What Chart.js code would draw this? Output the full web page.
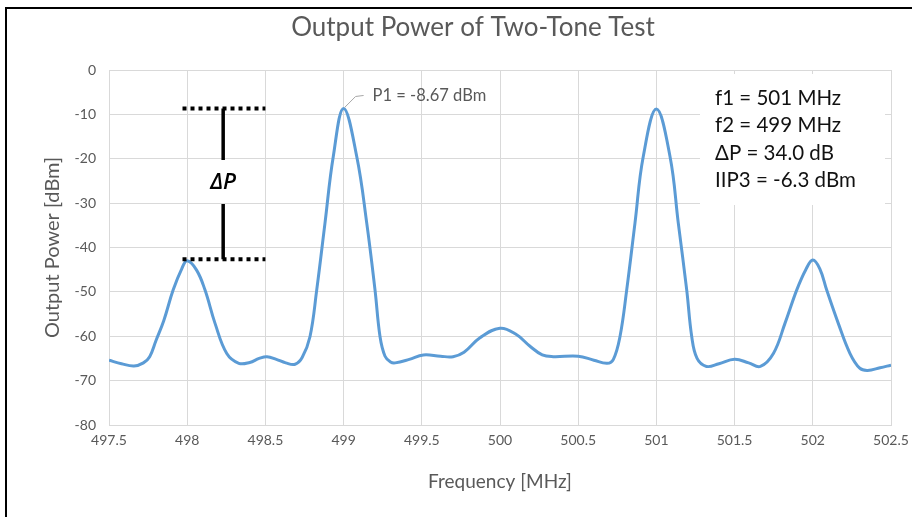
<!DOCTYPE html>
<html>
<head>
<meta charset="utf-8">
<title>Output Power of Two-Tone Test</title>
<script src="https://cdn.jsdelivr.net/npm/chart.js@4.4.1/dist/chart.umd.min.js"></script>
<style>
  html, body { margin: 0; padding: 0; background: #fff; overflow: hidden; }
  #wrap { position: relative; width: 912px; height: 517px; }
  #frame { position: absolute; left: 5px; top: 7px; width: 1000px; height: 1000px;
           border: 2px solid #000; box-sizing: border-box; pointer-events: none; }
  canvas { position: absolute; left: 0; top: 0; }
</style>
</head>
<body>
<div id="wrap">
  <canvas id="chart" width="912" height="517"></canvas>
  <div id="frame"></div>
</div>
<script>
// Measured spectrum of the two-tone test
const freqMHz = [
  497.50, 497.58, 497.66, 497.72, 497.76, 497.80, 497.85, 497.91, 497.965, 498.00,
  498.06, 498.114, 498.178, 498.253, 498.33, 498.40, 498.46, 498.51, 498.57, 498.63,
  498.69, 498.735, 498.785, 498.828, 498.881, 498.934, 499.00, 499.084, 499.148, 499.201,
  499.233, 499.265, 499.30, 499.33, 499.42, 499.51, 499.62, 499.70, 499.77, 499.87,
  500.00, 500.10, 500.19, 500.27, 500.34, 500.50, 500.60, 500.685, 500.725, 500.767,
  500.81, 500.863, 500.916, 501.00, 501.087, 501.14, 501.194, 501.226, 501.26, 501.32,
  501.40, 501.50, 501.59, 501.665, 501.748, 501.822, 501.897, 501.955, 502.00, 502.045,
  502.089, 502.163, 502.238, 502.30, 502.35, 502.43, 502.50
];
const powerDbm = [
  -65.4, -66.2, -66.7, -66.0, -64.6, -61.0, -56.5, -49.6, -44.8, -43.0,
  -45.1, -49.6, -57.1, -63.9, -66.1, -65.9, -65.0, -64.6, -65.2, -66.0,
  -66.3, -64.8, -60.1, -49.6, -34.5, -19.5, -8.67, -19.5, -34.5, -49.6,
  -60.1, -64.5, -65.8, -66.0, -65.2, -64.2, -64.5, -64.6, -63.6, -60.4,
  -58.2, -59.5, -62.2, -64.2, -64.6, -64.5, -65.4, -66.1, -65.2, -60.1,
  -49.6, -34.5, -19.5, -8.8, -19.5, -34.5, -49.6, -60.1, -65.0, -66.8,
  -66.2, -65.2, -66.0, -66.8, -63.9, -57.1, -49.6, -45.0, -42.8, -44.8,
  -49.6, -57.1, -63.9, -67.2, -67.7, -67.1, -66.5
];

// Axis ticks
const xTickValues = [497.5, 498, 498.5, 499, 499.5, 500, 500.5, 501, 501.5, 502, 502.5];
const xTickLabels = ['497.5', '498', '498.5', '499', '499.5', '500', '500.5', '501', '501.5', '502', '502.5'];
const yTickValues = [-80, -70, -60, -50, -40, -30, -20, -10, 0];
const yTickLabels = ['-80', '-70', '-60', '-50', '-40', '-30', '-20', '-10', '0'];

// Tone results
const f2MHz = 499;          // tone carrying the P1 marker
const p1Dbm = -8.67;        // fundamental output power
const deltaPdB = 34.0;      // fundamental-to-IM3 spacing
const deltaPSpanMHz = [497.97, 498.5];   // extent of the dotted ΔP guides
const deltaPBarMHz = 498.23;             // position of the ΔP bar
const infoLines = ['f1 = 501 MHz', 'f2 = 499 MHz', 'ΔP = 34.0 dB', 'IIP3 = -6.3 dBm'];

const chartTitle = 'Output Power of Two-Tone Test';
const xTitle = 'Frequency [MHz]';
const yTitle = 'Output Power [dBm]';

const GREY = '#595959';
const GRID = '#d9d9d9';
const FONT = "Lato, 'DejaVu Sans', sans-serif";

function labelFor(values, labels, v) {
  const i = values.findIndex(t => Math.abs(t - v) < 1e-6);
  return i >= 0 ? labels[i] : '';
}

const overlay = {
  id: 'overlay',
  beforeDatasetsDraw(chart) {
    // white panel for the results text, over the gridlines
    const ctx = chart.ctx;
    ctx.save();
    ctx.fillStyle = '#ffffff';
    ctx.fillRect(700, 74, 185, 131);
    ctx.restore();
  },
  afterDraw(chart) {
    const ctx = chart.ctx;
    const xs = chart.scales.x, ys = chart.scales.y;
    ctx.save();

    // chart title
    ctx.fillStyle = GREY;
    ctx.font = "26px " + FONT;
    ctx.textAlign = 'center';
    ctx.textBaseline = 'middle';
    ctx.fillText(chartTitle, 473, 28);

    // P1 marker with leader line
    const px = xs.getPixelForValue(f2MHz), py = ys.getPixelForValue(p1Dbm);
    ctx.strokeStyle = '#a6a6a6';
    ctx.lineWidth = 1;
    ctx.beginPath();
    ctx.moveTo(px + 1, py - 1);
    ctx.lineTo(px + 12, py - 12);
    ctx.lineTo(px + 20, py - 13);
    ctx.stroke();
    ctx.fillStyle = GREY;
    ctx.font = "16.5px " + FONT;
    ctx.textAlign = 'left';
    ctx.fillText('P1 = ' + p1Dbm.toFixed(2) + ' dBm', px + 29, py - 13);

    // ΔP dimension: dotted guides at P1 and P1 - ΔP, joined by a bar
    const yTop = ys.getPixelForValue(p1Dbm);
    const yBot = ys.getPixelForValue(p1Dbm - deltaPdB);
    const xa = xs.getPixelForValue(deltaPSpanMHz[0]);
    const xb = xs.getPixelForValue(deltaPSpanMHz[1]);
    const xm = xs.getPixelForValue(deltaPBarMHz);
    ctx.strokeStyle = '#000';
    ctx.lineWidth = 4;
    ctx.lineCap = 'butt';
    ctx.setLineDash([4, 4]);
    ctx.beginPath();
    ctx.moveTo(xa, yTop); ctx.lineTo(xb, yTop);
    ctx.moveTo(xa, yBot); ctx.lineTo(xb, yBot);
    ctx.stroke();
    ctx.setLineDash([]);
    ctx.lineWidth = 3.5;
    const ym = (yTop + yBot) / 2;
    ctx.beginPath();
    ctx.moveTo(xm, yTop); ctx.lineTo(xm, ym - 24);
    ctx.moveTo(xm, ym + 20); ctx.lineTo(xm, yBot);
    ctx.stroke();
    ctx.fillStyle = '#000';
    ctx.font = "italic 600 22px 'Open Sans', 'DejaVu Sans', sans-serif";
    ctx.textAlign = 'center';
    ctx.fillText('ΔP', xm, ym - 1);

    // results text
    ctx.fillStyle = '#111';
    ctx.font = "20.5px " + FONT;
    ctx.textAlign = 'left';
    infoLines.forEach((t, i) => ctx.fillText(t, 715, 98 + i * 27.5));

    ctx.restore();
  }
};

new Chart(document.getElementById('chart'), {
  type: 'scatter',
  data: {
    datasets: [{
      data: freqMHz.map((f, i) => ({ x: f, y: powerDbm[i] })),
      showLine: true,
      borderColor: '#5b9bd5',
      borderWidth: 3,
      pointRadius: 0,
      tension: 0.4,
      fill: false
    }]
  },
  options: {
    responsive: false,
    animation: false,
    devicePixelRatio: 1,
    layout: { padding: { left: 37, right: 21, top: 70, bottom: 20 } },
    plugins: { legend: { display: false }, tooltip: { enabled: false } },
    scales: {
      x: {
        type: 'linear',
        min: 497.5, max: 502.5,
        afterFit: s => { s.height = 72; s.paddingLeft = 0; s.paddingRight = 0; },
        afterBuildTicks: s => { s.ticks = xTickValues.map(v => ({ value: v })); },
        ticks: {
          color: GREY, font: { family: FONT, size: 14 }, padding: 7,
          maxRotation: 0, autoSkip: false,
          callback: v => labelFor(xTickValues, xTickLabels, v)
        },
        grid: { color: GRID, drawTicks: false, lineWidth: 1 },
        border: { color: GRID },
        title: { display: true, text: xTitle, color: GREY,
                 font: { family: FONT, size: 19 }, padding: { top: 4, bottom: 4 } }
      },
      y: {
        min: -80, max: 0,
        afterFit: s => { s.width = 72; s.paddingTop = 0; s.paddingBottom = 0; },
        afterBuildTicks: s => { s.ticks = yTickValues.map(v => ({ value: v })); },
        ticks: {
          color: GREY, font: { family: FONT, size: 14 }, padding: 13,
          callback: v => labelFor(yTickValues, yTickLabels, v)
        },
        grid: { color: GRID, drawTicks: false, lineWidth: 1 },
        border: { color: GRID },
        title: { display: true, text: yTitle, color: GREY,
                 font: { family: FONT, size: 20 }, padding: { top: 4, bottom: 4 } }
      }
    }
  },
  plugins: [overlay]
});
</script>
</body>
</html>
